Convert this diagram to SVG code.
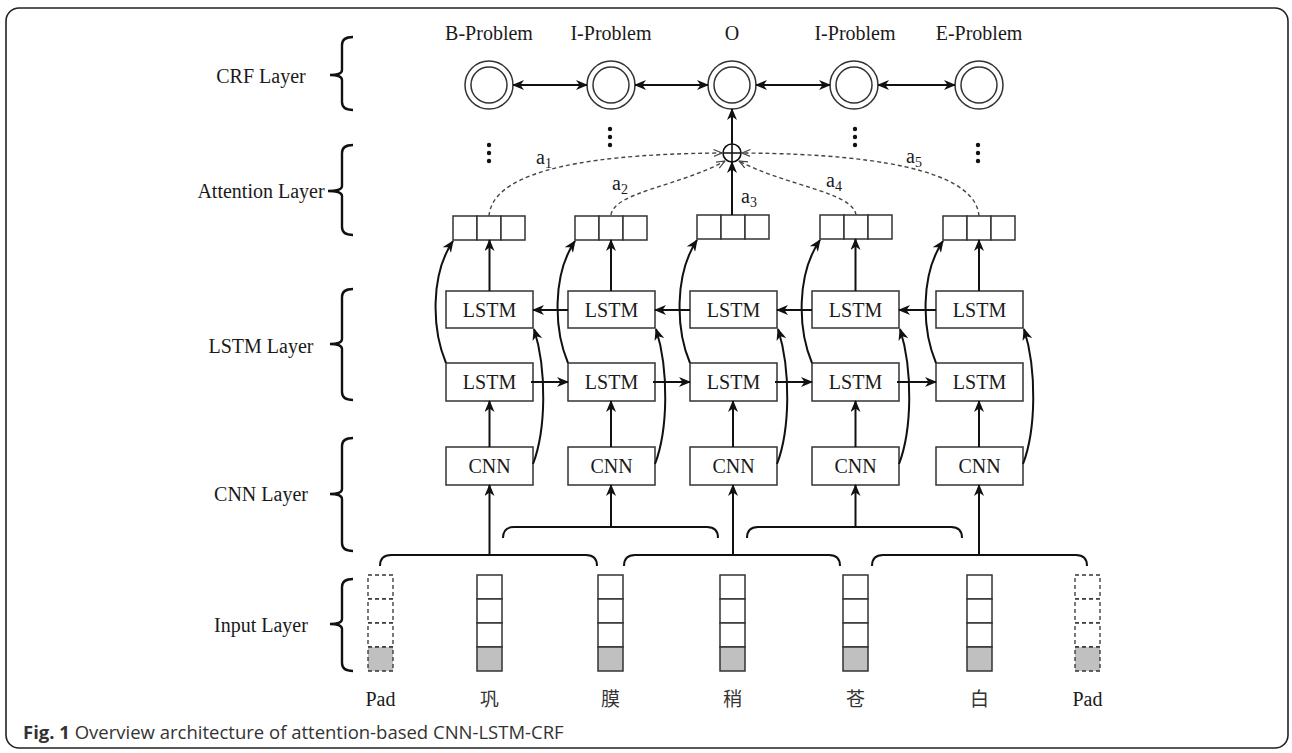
<svg xmlns="http://www.w3.org/2000/svg" width="1292" height="753" viewBox="0 0 1292 753">
<style>
.t{font-family:"Liberation Serif","Times New Roman",serif;font-size:20px;fill:#1a1a1a}
.sub{font-size:14px}
.zh{font-family:"Noto Sans CJK SC","Noto Sans",sans-serif;font-size:19px;fill:#333}
.box{fill:#fff;stroke:#333;stroke-width:1.5}
.cell{fill:#fff;stroke:#333;stroke-width:1.5}
.gray{fill:#c0c0c0}
.pad{fill:#fff;stroke:#333;stroke-width:1.3;stroke-dasharray:4 3}
.padg{fill:#c0c0c0;stroke:#333;stroke-width:1.3;stroke-dasharray:4 3}
.ln{fill:none;stroke:#111;stroke-width:2}
.arr{fill:none;stroke:#111;stroke-width:2;marker-end:url(#ah)}
.dash{fill:none;stroke:#444;stroke-width:1.4;stroke-dasharray:4 3;marker-end:url(#oh)}
.brace{fill:none;stroke:#111;stroke-width:2.4}
.crf{fill:#fff;stroke:#333;stroke-width:1.5}
.dot{fill:#111}
</style>
<defs>
<marker id="ah" viewBox="0 0 12 10" refX="11" refY="5" markerWidth="12" markerHeight="10" markerUnits="userSpaceOnUse" orient="auto-start-reverse">
<path d="M0,0 L12,5 L0,10 L3.5,5 z" fill="#111"/>
</marker>
<marker id="oh" viewBox="0 0 9 8" refX="8.5" refY="4" markerWidth="9" markerHeight="8" markerUnits="userSpaceOnUse" orient="auto">
<path d="M0,0.5 L8.5,4 L0,7.5" fill="none" stroke="#444" stroke-width="1.2"/>
</marker>
</defs>
<rect x="6" y="8" width="1282" height="740" rx="13" fill="#fff" stroke="#222" stroke-width="1.6"/>

<g id="layer-labels">
<text class="t" x="261" y="83" text-anchor="middle">CRF Layer</text>
<path class="brace" d="M353,37 Q342,37 342,45 L342,70 Q342,75 330,75 Q342,75 342,80 L342,102 Q342,110 353,110"/>
<text class="t" x="261" y="198" text-anchor="middle">Attention Layer</text>
<path class="brace" d="M353,145 Q342,145 342,153 L342,186 Q342,191 328,191 Q342,191 342,196 L342,227 Q342,235 353,235"/>
<text class="t" x="261" y="353" text-anchor="middle">LSTM Layer</text>
<path class="brace" d="M353,289 Q342,289 342,297 L342,339 Q342,344 330,344 Q342,344 342,349 L342,392 Q342,400 353,400"/>
<text class="t" x="261" y="501" text-anchor="middle">CNN Layer</text>
<path class="brace" d="M353,438 Q342,438 342,446 L342,489 Q342,494 330,494 Q342,494 342,499 L342,543 Q342,551 353,551"/>
<text class="t" x="261" y="632" text-anchor="middle">Input Layer</text>
<path class="brace" d="M353,579 Q342,579 342,587 L342,619 Q342,624 330,624 Q342,624 342,629 L342,663 Q342,671 353,671"/>
</g>

<g id="crf-nodes">
<g id="crf1"><text class="t" x="489" y="40" text-anchor="middle">B-Problem</text><circle class="crf" cx="489" cy="85" r="24"/><circle class="crf" cx="489" cy="85" r="18"/></g>
<g id="crf2"><text class="t" x="611" y="40" text-anchor="middle">I-Problem</text><circle class="crf" cx="611" cy="85" r="24"/><circle class="crf" cx="611" cy="85" r="18"/></g>
<g id="crf3"><text class="t" x="732" y="40" text-anchor="middle">O</text><circle class="crf" cx="732" cy="85" r="24"/><circle class="crf" cx="732" cy="85" r="18"/></g>
<g id="crf4"><text class="t" x="855" y="40" text-anchor="middle">I-Problem</text><circle class="crf" cx="854" cy="85" r="24"/><circle class="crf" cx="854" cy="85" r="18"/></g>
<g id="crf5"><text class="t" x="979" y="40" text-anchor="middle">E-Problem</text><circle class="crf" cx="979" cy="85" r="24"/><circle class="crf" cx="979" cy="85" r="18"/></g>
</g>

<g id="ellipses">
<circle class="dot" cx="489" cy="145" r="2.2"/><circle class="dot" cx="489" cy="153" r="2.2"/><circle class="dot" cx="489" cy="161" r="2.2"/>
<circle class="dot" cx="610" cy="129" r="2.2"/><circle class="dot" cx="610" cy="137" r="2.2"/><circle class="dot" cx="610" cy="145" r="2.2"/>
<circle class="dot" cx="855" cy="129" r="2.2"/><circle class="dot" cx="855" cy="137" r="2.2"/><circle class="dot" cx="855" cy="145" r="2.2"/>
<circle class="dot" cx="978" cy="145" r="2.2"/><circle class="dot" cx="978" cy="153" r="2.2"/><circle class="dot" cx="978" cy="161" r="2.2"/>
</g>

<g id="sum">
<circle cx="732" cy="153" r="9" fill="#fff" stroke="#111" stroke-width="1.6"/>
<path d="M723,153 H741 M732,144 V162" stroke="#111" stroke-width="1.6"/>
</g>

<g id="attention-vectors">
<g id="vec1"><rect class="cell" x="453" y="216" width="24" height="24"/><rect class="cell" x="477" y="216" width="24" height="24"/><rect class="cell" x="501" y="216" width="24" height="24"/></g>
<g id="vec2"><rect class="cell" x="575" y="216" width="24" height="24"/><rect class="cell" x="599" y="216" width="24" height="24"/><rect class="cell" x="623" y="216" width="24" height="24"/></g>
<g id="vec3"><rect class="cell" x="697" y="215" width="24" height="24"/><rect class="cell" x="721" y="215" width="24" height="24"/><rect class="cell" x="745" y="215" width="24" height="24"/></g>
<g id="vec4"><rect class="cell" x="820" y="215" width="24" height="24"/><rect class="cell" x="844" y="215" width="24" height="24"/><rect class="cell" x="868" y="215" width="24" height="24"/></g>
<g id="vec5"><rect class="cell" x="943" y="216" width="24" height="24"/><rect class="cell" x="967" y="216" width="24" height="24"/><rect class="cell" x="991" y="216" width="24" height="24"/></g>
</g>

<g id="lstm-top">
<g id="lt1"><rect class="box" x="446" y="291" width="87" height="37"/><text class="t" x="489.5" y="317" text-anchor="middle">LSTM</text></g>
<g id="lt2"><rect class="box" x="568" y="291" width="87" height="37"/><text class="t" x="611.5" y="317" text-anchor="middle">LSTM</text></g>
<g id="lt3"><rect class="box" x="690" y="291" width="87" height="37"/><text class="t" x="733.5" y="317" text-anchor="middle">LSTM</text></g>
<g id="lt4"><rect class="box" x="812" y="291" width="87" height="37"/><text class="t" x="855.5" y="317" text-anchor="middle">LSTM</text></g>
<g id="lt5"><rect class="box" x="936" y="291" width="87" height="37"/><text class="t" x="979.5" y="317" text-anchor="middle">LSTM</text></g>
</g>
<g id="lstm-bottom">
<g id="lb1"><rect class="box" x="446" y="363" width="87" height="38"/><text class="t" x="489.5" y="389" text-anchor="middle">LSTM</text></g>
<g id="lb2"><rect class="box" x="568" y="363" width="87" height="38"/><text class="t" x="611.5" y="389" text-anchor="middle">LSTM</text></g>
<g id="lb3"><rect class="box" x="690" y="363" width="87" height="38"/><text class="t" x="733.5" y="389" text-anchor="middle">LSTM</text></g>
<g id="lb4"><rect class="box" x="812" y="363" width="87" height="38"/><text class="t" x="855.5" y="389" text-anchor="middle">LSTM</text></g>
<g id="lb5"><rect class="box" x="936" y="363" width="87" height="38"/><text class="t" x="979.5" y="389" text-anchor="middle">LSTM</text></g>
</g>
<g id="cnn">
<g id="c1"><rect class="box" x="446" y="447" width="87" height="38"/><text class="t" x="489.5" y="473" text-anchor="middle">CNN</text></g>
<g id="c2"><rect class="box" x="568" y="447" width="87" height="38"/><text class="t" x="611.5" y="473" text-anchor="middle">CNN</text></g>
<g id="c3"><rect class="box" x="690" y="447" width="87" height="38"/><text class="t" x="733.5" y="473" text-anchor="middle">CNN</text></g>
<g id="c4"><rect class="box" x="812" y="447" width="87" height="38"/><text class="t" x="855.5" y="473" text-anchor="middle">CNN</text></g>
<g id="c5"><rect class="box" x="936" y="447" width="87" height="38"/><text class="t" x="979.5" y="473" text-anchor="middle">CNN</text></g>
</g>

<g id="inputs">
<g id="in0"><rect class="pad" x="368" y="575" width="25" height="24"/><rect class="pad" x="368" y="599" width="25" height="24"/><rect class="pad" x="368" y="623" width="25" height="24"/><rect class="padg" x="368" y="647" width="25" height="24"/><text class="t" x="380.5" y="706" text-anchor="middle">Pad</text></g>
<g id="in1"><rect class="cell" x="477" y="575" width="25" height="24"/><rect class="cell" x="477" y="599" width="25" height="24"/><rect class="cell" x="477" y="623" width="25" height="24"/><rect class="cell gray" x="477" y="647" width="25" height="24"/><text class="zh" x="489.5" y="706" text-anchor="middle">巩</text></g>
<g id="in2"><rect class="cell" x="598" y="575" width="25" height="24"/><rect class="cell" x="598" y="599" width="25" height="24"/><rect class="cell" x="598" y="623" width="25" height="24"/><rect class="cell gray" x="598" y="647" width="25" height="24"/><text class="zh" x="610.5" y="706" text-anchor="middle">膜</text></g>
<g id="in3"><rect class="cell" x="720" y="575" width="25" height="24"/><rect class="cell" x="720" y="599" width="25" height="24"/><rect class="cell" x="720" y="623" width="25" height="24"/><rect class="cell gray" x="720" y="647" width="25" height="24"/><text class="zh" x="732.5" y="706" text-anchor="middle">稍</text></g>
<g id="in4"><rect class="cell" x="843" y="575" width="25" height="24"/><rect class="cell" x="843" y="599" width="25" height="24"/><rect class="cell" x="843" y="623" width="25" height="24"/><rect class="cell gray" x="843" y="647" width="25" height="24"/><text class="zh" x="855.5" y="706" text-anchor="middle">苍</text></g>
<g id="in5"><rect class="cell" x="967" y="575" width="25" height="24"/><rect class="cell" x="967" y="599" width="25" height="24"/><rect class="cell" x="967" y="623" width="25" height="24"/><rect class="cell gray" x="967" y="647" width="25" height="24"/><text class="zh" x="979.5" y="706" text-anchor="middle">白</text></g>
<g id="in6"><rect class="pad" x="1075" y="575" width="25" height="24"/><rect class="pad" x="1075" y="599" width="25" height="24"/><rect class="pad" x="1075" y="623" width="25" height="24"/><rect class="padg" x="1075" y="647" width="25" height="24"/><text class="t" x="1087.5" y="706" text-anchor="middle">Pad</text></g>
</g>

<g id="connectors">
<path class="arr" d="M513,85 H587" marker-start="url(#ah)"/>
<path class="arr" d="M635,85 H708" marker-start="url(#ah)"/>
<path class="arr" d="M756,85 H830" marker-start="url(#ah)"/>
<path class="arr" d="M878,85 H955" marker-start="url(#ah)"/>
<path class="arr" d="M732,144 V109"/>
<path class="arr" d="M732,215 V162"/>
<path class="dash" d="M489,216 C492,178 560,154 722,153"/>
<path class="dash" d="M611,215 C614,192 680,186 725,161"/>
<path class="dash" d="M856,215 C853,192 786,186 739,161"/>
<path class="dash" d="M979,216 C976,178 905,154 742,153"/>
<path class="arr" d="M489.5,291 V240"/>
<path class="arr" d="M611,291 V240"/>
<path class="arr" d="M855.5,291 V239"/>
<path class="arr" d="M979,291 V240"/>
<path class="arr" d="M568,310 H533"/>
<path class="arr" d="M690,310 H655"/>
<path class="arr" d="M812,310 H777"/>
<path class="arr" d="M936,310 H899"/>
<path class="arr" d="M531,382 H568"/>
<path class="arr" d="M653,382 H690"/>
<path class="arr" d="M775,382 H812"/>
<path class="arr" d="M897,382 H936"/>
<path class="arr" d="M489.5,447 V401"/>
<path class="arr" d="M611,447 V401"/>
<path class="arr" d="M733,447 V401"/>
<path class="arr" d="M855.5,447 V401"/>
<path class="arr" d="M979,447 V401"/>
<path class="arr" d="M446,363 C432,330 430,275 453,241"/>
<path class="arr" d="M568,363 C554,330 552,275 575,241"/>
<path class="arr" d="M690,363 C676,330 674,275 697,240"/>
<path class="arr" d="M812,363 C798,330 796,275 820,240"/>
<path class="arr" d="M936,363 C922,330 920,275 943,241"/>
<path class="arr" d="M533,464 C546,430 547,370 534,329"/>
<path class="arr" d="M655,464 C668,430 669,370 656,329"/>
<path class="arr" d="M777,464 C790,430 791,370 778,329"/>
<path class="arr" d="M899,464 C912,430 913,370 900,329"/>
<path class="arr" d="M1023,464 C1036,430 1037,370 1024,329"/>
<path class="ln" d="M380,566 Q380,555 391,555 L586,555 Q597,555 597,566"/>
<path class="ln" d="M624,566 Q624,555 635,555 L829,555 Q840,555 840,566"/>
<path class="ln" d="M872,566 Q872,555 883,555 L1076,555 Q1087,555 1087,566"/>
<path class="ln" d="M503,538 Q503,527 514,527 L707,527 Q718,527 718,538"/>
<path class="ln" d="M747,538 Q747,527 758,527 L951,527 Q962,527 962,538"/>
<path class="arr" d="M489.5,555 V485"/>
<path class="arr" d="M611,527 V485"/>
<path class="arr" d="M733,555 V485"/>
<path class="arr" d="M855.5,527 V485"/>
<path class="arr" d="M979,555 V485"/>
</g>

<g id="weights">
<text class="t" x="536" y="164">a<tspan class="sub" dy="4">1</tspan></text>
<text class="t" x="612" y="190">a<tspan class="sub" dy="4">2</tspan></text>
<text class="t" x="741" y="203">a<tspan class="sub" dy="4">3</tspan></text>
<text class="t" x="826" y="187">a<tspan class="sub" dy="4">4</tspan></text>
<text class="t" x="906" y="163">a<tspan class="sub" dy="4">5</tspan></text>
</g>

<text x="23" y="739" font-family="'Open Sans','Noto Sans',sans-serif" font-size="18.5" fill="#333"><tspan font-weight="bold">Fig. 1</tspan> Overview architecture of attention-based CNN-LSTM-CRF</text>
</svg>
